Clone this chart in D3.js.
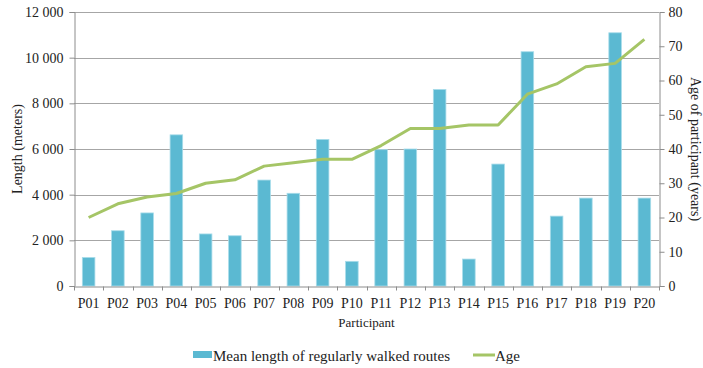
<!DOCTYPE html>
<html>
<head>
<meta charset="utf-8">
<script src="https://cdn.jsdelivr.net/npm/d3@7"></script>
<style>
    body { margin: 0; background: #fff; }
    svg text { font-family: 'Liberation Serif', 'Times New Roman', serif; }
</style>
</head>
<body>
<div id="wrapper"></div>
<script>
const participants = ["P01", "P02", "P03", "P04", "P05", "P06", "P07", "P08", "P09", "P10",
    "P11", "P12", "P13", "P14", "P15", "P16", "P17", "P18", "P19", "P20"]
const meanLength = [1250, 2420, 3200, 6620, 2280, 2200, 4640, 4060, 6420, 1080,
    5970, 6000, 8610, 1180, 5340, 10260, 3060, 3850, 11090, 3850]
const age = [20, 24, 26, 27, 30, 31, 35, 36, 37, 37, 41, 46, 46, 47, 47, 56, 59, 64, 65, 72]
const lengthTicks = [0, 2000, 4000, 6000, 8000, 10000, 12000]
const ageTicks = [0, 10, 20, 30, 40, 50, 60, 70, 80]

const serif = "'Liberation Serif', 'Times New Roman', serif"

function drawChart() {
    d3.selectAll("svg").remove()
    const dataset = participants.map((p, i) => ({p: p, len: meanLength[i], age: age[i]}))
    const dimensions = createChartDimensions()
    const {svg, bounds} = drawCanvas(dimensions)
    const {xScale, yScale, ageScale} = createScales(dimensions)
    drawGrid(yScale, bounds, dimensions)
    drawData(xScale, yScale, ageScale, bounds, dataset)
    drawPeripherals(xScale, yScale, ageScale, bounds, dimensions)
    drawLegend(svg)
}

function createChartDimensions() {
    let dimensions = {
        width: 703,
        height: 368,
        margin: {top: 12, right: 44, bottom: 82, left: 74},
    }
    dimensions.boundedWidth = dimensions.width - dimensions.margin.left - dimensions.margin.right
    dimensions.boundedHeight = dimensions.height - dimensions.margin.top - dimensions.margin.bottom
    return dimensions
}

function drawCanvas(dimensions) {
    const svg = d3.select("#wrapper")
        .append("svg")
        .attr("width", dimensions.width)
        .attr("height", dimensions.height)
    const bounds = svg.append("g")
        .attr("transform", `translate(${dimensions.margin.left}, ${dimensions.margin.top})`)
    return {svg, bounds}
}

function createScales(dimensions) {
    const xScale = d3.scaleBand()
        .domain(participants)
        .range([0, dimensions.boundedWidth])
        .paddingInner(0.57)
        .paddingOuter(0.285)
    const yScale = d3.scaleLinear()
        .domain([0, 12000])
        .range([dimensions.boundedHeight, 0])
    const ageScale = d3.scaleLinear()
        .domain([0, 80])
        .range([dimensions.boundedHeight, 0])
    return {xScale, yScale, ageScale}
}

function drawGrid(yScale, bounds, dimensions) {
    bounds.append("g")
        .selectAll("line")
        .data(lengthTicks.slice(1))
        .join("line")
        .attr("x1", 0)
        .attr("x2", dimensions.boundedWidth)
        .attr("y1", d => Math.round(yScale(d)) + 0.5)
        .attr("y2", d => Math.round(yScale(d)) + 0.5)
        .attr("stroke", "#a6a6a6")
        .attr("stroke-width", 1)
}

function drawData(xScale, yScale, ageScale, bounds, dataset) {
    bounds.append("g")
        .selectAll("rect")
        .data(dataset)
        .join("rect")
        .attr("x", d => xScale(d.p))
        .attr("y", d => yScale(d.len))
        .attr("width", xScale.bandwidth())
        .attr("height", d => yScale(0) - yScale(d.len))
        .attr("fill", "#5bb9d2")
        .attr("stroke", "#a8dcea")
        .attr("stroke-width", 0.8)

    const line = d3.line()
        .x(d => xScale(d.p) + xScale.bandwidth() / 2)
        .y(d => ageScale(d.age))
    bounds.append("path")
        .datum(dataset)
        .attr("d", line)
        .attr("fill", "none")
        .attr("stroke", "#a5c566")
        .attr("stroke-width", 3)
        .attr("stroke-linejoin", "round")
}

function drawPeripherals(xScale, yScale, ageScale, bounds, dimensions) {
    const yAxis = bounds.append("g")
        .attr("transform", "translate(0.5, 0)")
        .call(d3.axisLeft(yScale).tickValues(lengthTicks).tickSize(5).tickPadding(6)
            .tickFormat(d => d3.format(",")(d).replace(",", " ")))
    const ageAxis = bounds.append("g")
        .attr("transform", `translate(${dimensions.boundedWidth + 0.5}, 0)`)
        .call(d3.axisRight(ageScale).tickValues(ageTicks).tickSize(5).tickPadding(4))
    const xAxis = bounds.append("g")
        .attr("transform", `translate(0, ${dimensions.boundedHeight + 0.5})`)
        .call(d3.axisBottom(xScale).tickSize(0).tickPadding(12))

    // tick marks between the categories, like a category axis
    const step = xScale.step()
    xAxis.append("g")
        .selectAll("line")
        .data(d3.range(participants.length + 1))
        .join("line")
        .attr("x1", i => Math.round(i * step) + 0.5)
        .attr("x2", i => Math.round(i * step) + 0.5)
        .attr("y1", 0)
        .attr("y2", 4)
        .attr("stroke", "#8c8c8c")

    ;[yAxis, ageAxis, xAxis].forEach(axis => {
        axis.attr("font-family", null)
        axis.selectAll(".domain, .tick line").attr("stroke", "#8c8c8c")
        axis.selectAll("text")
            .style("font-family", serif)
            .style("font-size", "14px")
            .attr("fill", "#222")
    })

    bounds.append("text")
        .attr("x", dimensions.boundedWidth / 2)
        .attr("y", dimensions.boundedHeight + 41)
        .attr("text-anchor", "middle")
        .style("font-family", serif)
        .style("font-size", "13px")
        .attr("fill", "#222")
        .text("Participant")

    bounds.append("text")
        .attr("transform", `translate(-52, ${dimensions.boundedHeight / 2}) rotate(-90)`)
        .attr("text-anchor", "middle")
        .style("font-family", serif)
        .style("font-size", "14px")
        .attr("fill", "#222")
        .text("Length (meters)")

    bounds.append("text")
        .attr("transform", `translate(${dimensions.boundedWidth + 32}, ${dimensions.boundedHeight / 2}) rotate(90)`)
        .attr("text-anchor", "middle")
        .style("font-family", serif)
        .style("font-size", "14px")
        .attr("fill", "#222")
        .text("Age of participant (years)")
}

function drawLegend(svg) {
    const legend = svg.append("g")
        .style("font-family", serif)
        .style("font-size", "15px")
    legend.append("rect")
        .attr("x", 193)
        .attr("y", 351)
        .attr("width", 19)
        .attr("height", 7)
        .attr("fill", "#5bb9d2")
    legend.append("text")
        .attr("x", 213)
        .attr("y", 361)
        .attr("fill", "#222")
        .text("Mean length of regularly walked routes")
    legend.append("line")
        .attr("x1", 473)
        .attr("x2", 495)
        .attr("y1", 355)
        .attr("y2", 355)
        .attr("stroke", "#a5c566")
        .attr("stroke-width", 3)
    legend.append("text")
        .attr("x", 495)
        .attr("y", 361)
        .attr("fill", "#222")
        .text("Age")
}

drawChart()
</script>
</body>
</html>
